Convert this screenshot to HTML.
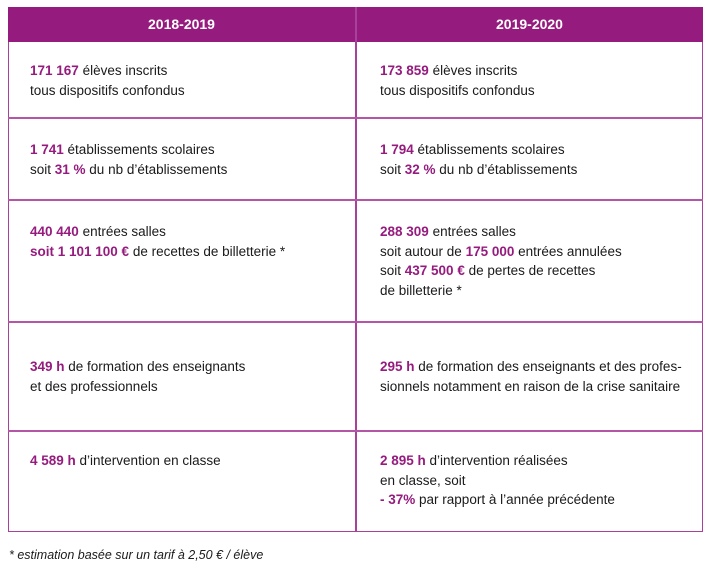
<!DOCTYPE html>
<html><head><meta charset="utf-8"><style>
body{margin:0;width:709px;height:571px;background:#fff;font-family:"Liberation Sans",sans-serif;position:relative;overflow:hidden}
.tb{position:absolute;left:8px;top:7px;width:695px;height:525px;border:1.5px solid #a7419a;box-sizing:border-box}
.hd{position:absolute;left:8px;top:7px;width:695px;height:35px;background:#961b7e}
.hd span{position:absolute;top:0;line-height:35px;color:#fff;font-weight:bold;font-size:14px;width:347px;text-align:center}
.vl{position:absolute;left:355px;top:7px;width:1.5px;height:525px;background:#a7419a}
.hl{position:absolute;left:8px;width:695px;height:1.5px;background:#b455a8}
.t{position:absolute;font-size:13.5px;line-height:19.5px;color:#1a1a1a;white-space:nowrap}
.t b{color:#961b7e}
.fn{position:absolute;left:9px;top:548px;font-size:12.5px;font-style:italic;color:#1a1a1a}
</style></head><body>
<div class="tb"></div>
<div class="hd"><span style="left:0">2018-2019</span><span style="left:348px">2019-2020</span></div>
<div class="vl"></div>
<div class="hl" style="top:117px"></div>
<div class="hl" style="top:199px"></div>
<div class="hl" style="top:321px"></div>
<div class="hl" style="top:430px"></div>

<div class="t" style="left:30px;top:61px"><b>171 167</b> élèves inscrits<br>tous dispositifs confondus</div>
<div class="t" style="left:380px;top:61px"><b>173 859</b> élèves inscrits<br>tous dispositifs confondus</div>

<div class="t" style="left:30px;top:140px"><b>1 741</b> établissements scolaires<br>soit <b>31 %</b> du nb d’établissements</div>
<div class="t" style="left:380px;top:140px"><b>1 794</b> établissements scolaires<br>soit <b>32 %</b> du nb d’établissements</div>

<div class="t" style="left:30px;top:222px"><b>440 440</b> entrées salles<br><b>soit 1 101 100 €</b> de recettes de billetterie *</div>
<div class="t" style="left:380px;top:222px"><b>288 309</b> entrées salles<br>soit autour de <b>175 000</b> entrées annulées<br>soit <b>437 500 €</b> de pertes de recettes<br>de billetterie *</div>

<div class="t" style="left:30px;top:357px"><b>349 h</b> de formation des enseignants<br>et des professionnels</div>
<div class="t" style="left:380px;top:357px"><b>295 h</b> de formation des enseignants et des profes-<br>sionnels notamment en raison de la crise sanitaire</div>

<div class="t" style="left:30px;top:451px"><b>4 589 h</b> d’intervention en classe</div>
<div class="t" style="left:380px;top:451px"><b>2 895 h</b> d’intervention réalisées<br>en classe, soit<br><b>- 37%</b> par rapport à l’année précédente</div>

<div class="fn">* estimation basée sur un tarif à 2,50 € / élève</div>
</body></html>
